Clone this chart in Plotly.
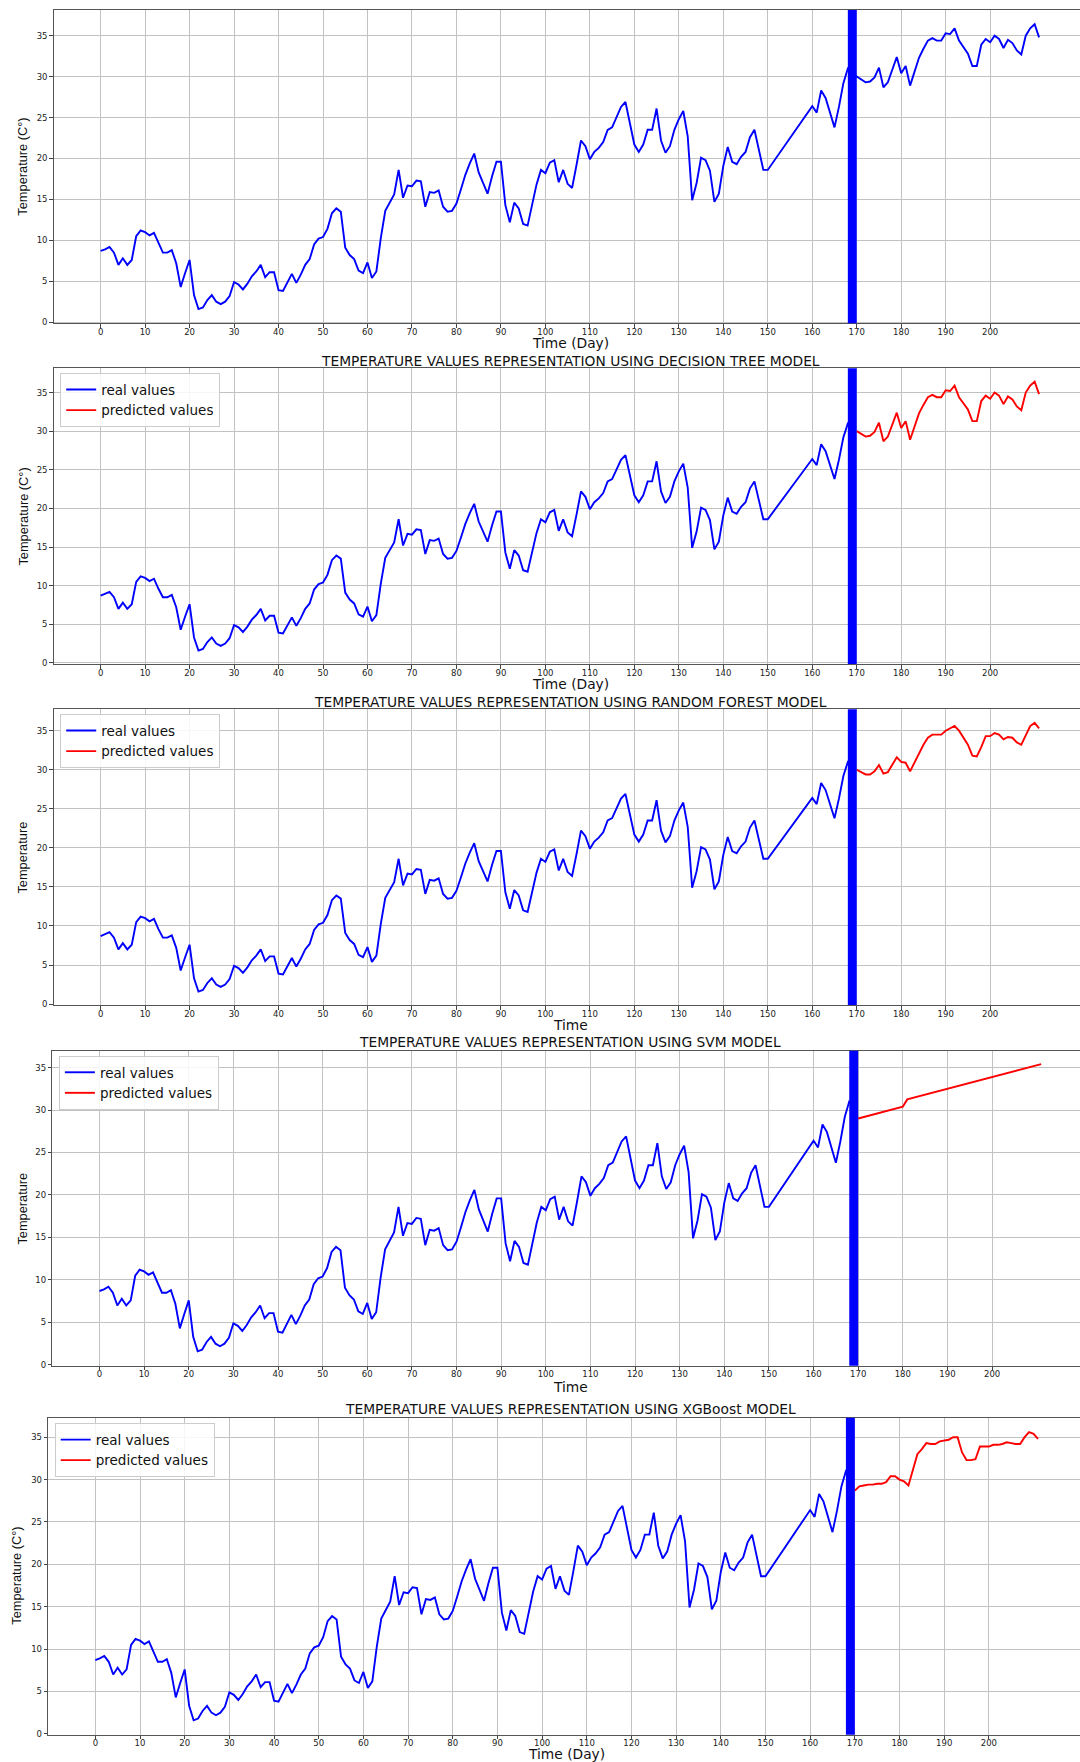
import plotly.graph_objects as go

# ---------------- data ----------------
real_days = list(range(0, 151)) + list(range(160, 212))
real_temp = [
    8.7, 8.9, 9.2, 8.5, 7.0, 7.8, 7.0, 7.6, 10.5, 11.2,
    11.0, 10.6, 10.9, 9.6, 8.5, 8.5, 8.8, 7.2, 4.3, 6.0,
    7.6, 3.3, 1.6, 1.8, 2.7, 3.3, 2.5, 2.2, 2.5, 3.2,
    4.9, 4.6, 4.0, 4.7, 5.6, 6.2, 7.0, 5.5, 6.1, 6.1,
    3.9, 3.8, 4.8, 5.9, 4.8, 5.8, 7.0, 7.7, 9.5, 10.2,
    10.4, 11.4, 13.3, 13.9, 13.5, 9.1, 8.2, 7.7, 6.3, 6.0,
    7.3, 5.4, 6.2, 10.3, 13.6, 14.7, 15.6, 18.6, 15.2, 16.7,
    16.6, 17.3, 17.2, 14.1, 15.9, 15.8, 16.1, 14.1, 13.5, 13.6,
    14.5, 16.2, 18.0, 19.4, 20.6, 18.3, 16.9, 15.7, 17.8, 19.6,
    19.6, 14.3, 12.2, 14.6, 13.9, 12.0, 11.8, 14.5, 16.8, 18.6,
    18.2, 19.5, 19.8, 17.1, 18.6, 16.9, 16.4, 19.2, 22.2, 21.5,
    19.9, 20.8, 21.3, 22.0, 23.5, 23.8, 25.0, 26.3, 26.9, 24.1,
    21.7, 20.8, 21.7, 23.5, 23.5, 26.1, 22.2, 20.7, 21.5, 23.5,
    24.8, 25.8, 22.7, 14.9, 17.0, 20.1, 19.8, 18.5, 14.7, 15.7,
    19.1, 21.4, 19.6, 19.3, 20.2, 20.8, 22.6, 23.5, 21.0, 18.6,
    18.6,
    26.4, 25.6, 28.3, 27.4, 25.7, 23.8, 26.3, 29.2, 31.0, 30.6,
    30.0, 29.6, 29.3, 29.4, 29.9, 31.1, 28.7, 29.3, 30.9, 32.4,
    30.4, 31.3, 28.9, 30.6, 32.3, 33.4, 34.4, 34.7, 34.4, 34.4,
    35.3, 35.2, 35.9, 34.4, 33.6, 32.8, 31.3, 31.3, 33.9, 34.6,
    34.2, 35.0, 34.6, 33.5, 34.5, 34.1, 33.2, 32.7, 35.0, 35.9,
    36.4, 34.8,
]
assert len(real_days) == len(real_temp)

pred_days = list(range(170, 212))
dt_pred = [
    30.0, 29.6, 29.3, 29.4, 29.9, 31.1, 28.7, 29.3, 30.9, 32.4,
    30.4, 31.3, 28.9, 30.6, 32.3, 33.4, 34.4, 34.7, 34.4, 34.4,
    35.3, 35.2, 35.9, 34.4, 33.6, 32.8, 31.3, 31.3, 33.9, 34.6,
    34.2, 35.0, 34.6, 33.5, 34.5, 34.1, 33.2, 32.7, 35.0, 35.9,
    36.4, 34.8,
]
rf_pred = [
    30.0, 29.7, 29.4, 29.4, 29.8, 30.6, 29.5, 29.7, 30.6, 31.6,
    31.0, 30.9, 29.8, 31.0, 32.2, 33.2, 34.1, 34.5, 34.5, 34.5,
    35.0, 35.3, 35.6, 35.0, 34.1, 33.2, 31.8, 31.7, 32.9, 34.3,
    34.3, 34.7, 34.5, 33.9, 34.2, 34.1, 33.5, 33.2, 34.4, 35.6,
    36.0, 35.3,
]
svm_days = [170, 180, 181, 211]
svm_pred = [29.0, 30.4, 31.25, 35.4]
xgb_pred = [
    28.7, 29.2, 29.3, 29.4, 29.4, 29.5, 29.5, 29.7, 30.4, 30.4,
    30.0, 29.8, 29.3, 31.1, 33.0, 33.6, 34.3, 34.2, 34.2, 34.5,
    34.6, 34.7, 35.0, 35.0, 33.2, 32.3, 32.3, 32.4, 33.9, 33.9,
    33.9, 34.1, 34.1, 34.2, 34.4, 34.3, 34.2, 34.2, 35.0, 35.6,
    35.4, 34.8,
]

split_start, split_end = 168, 170
x_tick_vals = [0, 10, 20, 30, 40, 50, 60, 70, 80, 90, 100,
               110, 120, 130, 140, 150, 160, 170, 180, 190, 200]
y_tick_vals = [0, 5, 10, 15, 20, 25, 30, 35]

titles = [
    None,
    "TEMPERATURE VALUES REPRESENTATION USING DECISION TREE MODEL",
    "TEMPERATURE VALUES REPRESENTATION USING RANDOM FOREST MODEL",
    "TEMPERATURE VALUES REPRESENTATION USING SVM MODEL",
    "TEMPERATURE VALUES REPRESENTATION USING XGBoost MODEL",
]
x_titles = ["Time (Day)", "Time (Day)", "Time", "Time", "Time (Day)"]
y_titles = ["Temperature (C°)", "Temperature (C°)", "Temperature", "Temperature", "Temperature (C°)"]

# ---------------- layout geometry (pixels in a 1080x1762 page) ----------------
W, H = 1080, 1762
panels = [
    dict(left=53.7, top=10.0, bottom=323.3, xr=220.2, yr=[-0.14, 38.14], ty=None, xty=343.3, xtx=570, ytx=23.0, leg=None),
    dict(left=53.7, top=368.3, bottom=664.0, xr=220.2, yr=[-0.14, 38.14], ty=360.7, xty=684.0, xtx=570, ytx=23.4, leg=373.3),
    dict(left=53.7, top=709.3, bottom=1005.0, xr=220.2, yr=[-0.12, 37.74], ty=701.7, xty=1025.3, xtx=570, ytx=22.4, leg=714.3),
    dict(left=52.4, top=1050.7, bottom=1365.7, xr=219.7, yr=[-0.09, 36.98], ty=1042.3, xty=1386.8, xtx=570, ytx=22.4, leg=1056.0),
    dict(left=48.2, top=1417.7, bottom=1734.7, xr=220.4, yr=[-0.10, 37.30], ty=1409.3, xty=1754.3, xtx=566, ytx=16.5, leg=1423.3),
]

BLUE = "#0000ff"
RED = "#ff0000"
LW = 1.9
GRID = "#c2c2c2"
tick_font = dict(family="DejaVu Sans", size=8.5, color="#222222")

fig = go.Figure()
annotations = []
shapes = []
layout = {}

for i, p in enumerate(panels):
    n = i + 1
    xa = "x" if n == 1 else f"x{n}"
    ya = "y" if n == 1 else f"y{n}"
    xkey = "xaxis" if n == 1 else f"xaxis{n}"
    ykey = "yaxis" if n == 1 else f"yaxis{n}"
    leg_name = None if n == 1 else ("legend" if n == 2 else f"legend{n - 1}")

    if n == 1:
        fig.add_trace(go.Scatter(x=real_days, y=real_temp, mode="lines",
                                 line=dict(color=BLUE, width=LW),
                                 xaxis=xa, yaxis=ya, showlegend=False))
    else:
        rd = [d for d in real_days if d < split_end]
        rt = [t for d, t in zip(real_days, real_temp) if d < split_end]
        if n == 2:
            px, py = pred_days, dt_pred
        elif n == 3:
            px, py = pred_days, rf_pred
        elif n == 4:
            px, py = svm_days, svm_pred
        else:
            px, py = pred_days, xgb_pred
        fig.add_trace(go.Scatter(x=rd, y=rt, mode="lines", name="real values",
                                 line=dict(color=BLUE, width=LW),
                                 xaxis=xa, yaxis=ya, legend=leg_name))
        fig.add_trace(go.Scatter(x=px, y=py, mode="lines", name="predicted values",
                                 line=dict(color=RED, width=LW),
                                 xaxis=xa, yaxis=ya, legend=leg_name))
        layout[leg_name] = dict(
            x=(p["left"] + 6.5) / W, y=1 - p["leg"] / H,
            xanchor="left", yanchor="top",
            bgcolor="rgba(255,255,255,0.85)", bordercolor="#cccccc", borderwidth=1,
            font=dict(family="DejaVu Sans", size=13.5, color="#111111"),
            itemwidth=30, tracegroupgap=0,
        )

    layout[xkey] = dict(
        domain=[p["left"] / W, 1.0], anchor=ya, automargin=False,
        range=[-10.55, p["xr"]],
        tickvals=x_tick_vals, tickfont=tick_font,
        ticks="outside", ticklen=3.5, tickcolor="#444444", tickwidth=0.8,
        ticklabelstandoff=-3,
        showgrid=True, gridcolor=GRID, gridwidth=1,
        showline=True, linecolor="#555555", linewidth=1, mirror=True,
        zeroline=False,
    )
    layout[ykey] = dict(
        domain=[1 - p["bottom"] / H, 1 - p["top"] / H], anchor=xa, automargin=False,
        range=p["yr"],
        tickvals=y_tick_vals, tickfont=tick_font,
        ticks="outside", ticklen=3.5, tickcolor="#444444", tickwidth=0.8,
        showgrid=True, gridcolor=GRID, gridwidth=1,
        showline=True, linecolor="#555555", linewidth=1,
        zeroline=False,
    )

    shapes.append(dict(type="rect", xref=xa, yref=f"{ya} domain",
                       x0=split_start, x1=split_end, y0=0, y1=1,
                       fillcolor=BLUE, line=dict(width=0), layer="above"))

    if titles[i]:
        annotations.append(dict(text=titles[i], xref="paper", yref="paper",
                                x=570 / W, y=1 - p["ty"] / H, xanchor="center", yanchor="middle",
                                showarrow=False,
                                font=dict(family="DejaVu Sans", size=13.8, color="#111111")))
    annotations.append(dict(text=x_titles[i], xref="paper", yref="paper",
                            x=p["xtx"] / W, y=1 - p["xty"] / H, xanchor="center", yanchor="middle",
                            showarrow=False,
                            font=dict(family="DejaVu Sans", size=13.8, color="#111111")))
    annotations.append(dict(text=y_titles[i], xref="paper", yref="paper",
                            x=p["ytx"] / W, y=1 - (p["top"] + p["bottom"]) / 2 / H,
                            xanchor="center", yanchor="middle", textangle=-90,
                            showarrow=False,
                            font=dict(family="Liberation Sans", size=12.8, color="#111111")))

fig.update_layout(
    width=W, height=H,
    margin=dict(l=0, r=0, t=0, b=0, autoexpand=False),
    paper_bgcolor="white", plot_bgcolor="white",
    annotations=annotations, shapes=shapes,
    **layout,
)

# remove the browser's default 8px page margin so the figure sits at the page origin
fig.write_html(
    "out.html",
    config={"displayModeBar": False},
    post_script="document.body.style.margin='0px'; document.body.style.overflow='hidden';",
)
